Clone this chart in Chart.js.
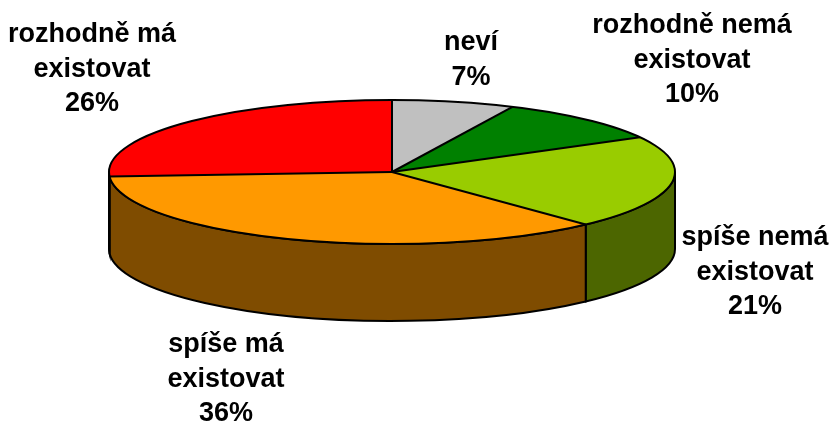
<!DOCTYPE html>
<html lang="cs">
  <head>
    <meta charset="UTF-8" />
    <title>Graf</title>
    <script src="https://cdn.jsdelivr.net/npm/chart.js"></script>
    <style>
      html, body { margin: 0; padding: 0; background: #fff; }
      canvas { display: block; }
    </style>
  </head>
  <body>
    <canvas id="pie" width="829" height="422"></canvas>

    <script>
      // data
      const categories = [
        ["neví"],
        ["rozhodně nemá", "existovat"],
        ["spíše nemá", "existovat"],
        ["spíše má", "existovat"],
        ["rozhodně má", "existovat"],
      ];
      const values = [7, 10, 21, 36, 26];
      const topColors = ["#C0C0C0", "#008000", "#99CC00", "#FF9900", "#FF0000"];
      const sideColors = ["#606060", "#004000", "#4C6600", "#7F4C00", "#800000"];

      // ellipse geometry of the 3D pie
      const CX = 392, CY = 172, RX = 283, RY = 72, DEPTH = 77;
      // label anchors (center x, first baseline y)
      const labelPos = [
        [471, 50],
        [692, 33],
        [755, 245],
        [226, 352],
        [92, 42],
      ];
      const LINE_H = 34.5;

      function ept(a, dy) {
        return [CX + RX * Math.cos(a), CY + dy + RY * Math.sin(a)];
      }

      const pie3d = {
        id: "pie3d",
        beforeDatasetsDraw(chart) {
          const ctx = chart.ctx;
          const arcs = chart.getDatasetMeta(0).data;
          ctx.save();
          ctx.lineWidth = 2;
          ctx.strokeStyle = "#000";
          // side walls for the front half
          arcs.forEach((arc, i) => {
            const ranges = [[0, Math.PI], [2 * Math.PI, 3 * Math.PI]];
            ranges.forEach(([lo, hi]) => {
              const a1 = Math.max(arc.startAngle, lo);
              const a2 = Math.min(arc.endAngle, hi);
              if (a2 <= a1) return;
              const p2 = ept(a2, DEPTH);
              ctx.beginPath();
              ctx.ellipse(CX, CY, RX, RY, 0, a1, a2, false);
              ctx.lineTo(p2[0], p2[1]);
              ctx.ellipse(CX, CY + DEPTH, RX, RY, 0, a2, a1, true);
              ctx.closePath();
              ctx.fillStyle = sideColors[i];
              ctx.fill();
              ctx.stroke();
            });
          });
          ctx.restore();

          // squash the library's circle into the top ellipse
          const a0 = arcs[0];
          const R = a0.outerRadius;
          ctx.save();
          ctx.translate(CX, CY);
          ctx.scale(RX / R, RY / R);
          ctx.translate(-a0.x, -a0.y);
        },
        afterDatasetsDraw(chart) {
          const ctx = chart.ctx;
          ctx.restore();
          const arcs = chart.getDatasetMeta(0).data;
          ctx.save();
          ctx.lineWidth = 2;
          ctx.strokeStyle = "#000";
          ctx.lineJoin = "round";
          ctx.beginPath();
          ctx.ellipse(CX, CY, RX, RY, 0, 0, 2 * Math.PI);
          ctx.stroke();
          arcs.forEach((arc) => {
            const p = ept(arc.startAngle, 0);
            ctx.beginPath();
            ctx.moveTo(CX, CY);
            ctx.lineTo(p[0], p[1]);
            ctx.stroke();
          });
          ctx.restore();

          // labels
          ctx.save();
          ctx.fillStyle = "#000";
          ctx.font = "bold 27px 'Liberation Sans', Arial, sans-serif";
          ctx.textAlign = "center";
          ctx.textBaseline = "alphabetic";
          const total = values.reduce((s, v) => s + v, 0);
          categories.forEach((lines, i) => {
            const all = lines.concat([Math.round((values[i] / total) * 100) + "%"]);
            const [x, y] = labelPos[i];
            all.forEach((t, k) => ctx.fillText(t, x, y + k * LINE_H));
          });
          ctx.restore();
        },
      };

      new Chart(document.getElementById("pie"), {
        type: "pie",
        data: {
          labels: categories,
          datasets: [
            {
              data: values,
              backgroundColor: topColors,
              borderWidth: 0,
              clip: false,
            },
          ],
        },
        options: {
          responsive: false,
          animation: false,
          plugins: {
            legend: { display: false },
            tooltip: { enabled: false },
          },
        },
        plugins: [pie3d],
      });
    </script>
  </body>
</html>
